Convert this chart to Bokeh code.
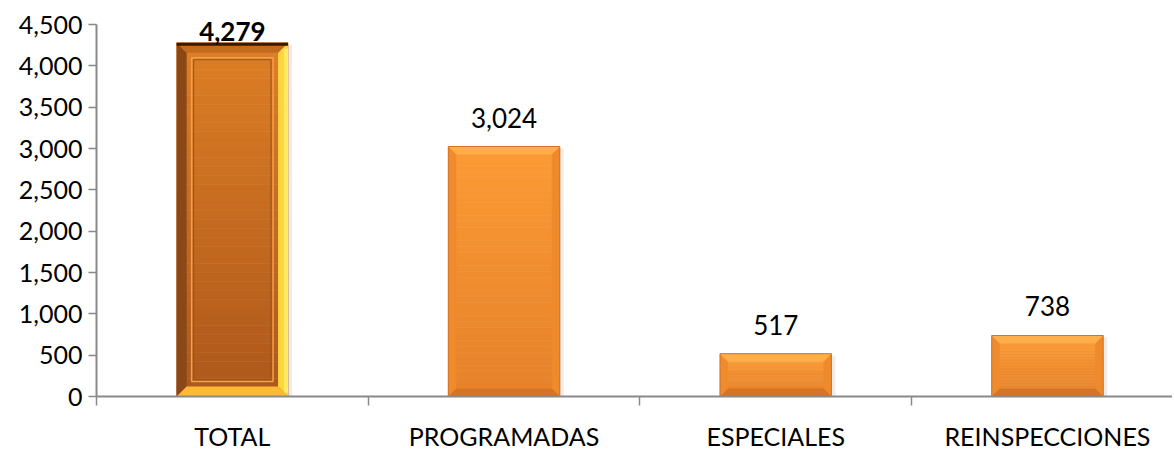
import numpy as np
from bokeh.plotting import figure
from bokeh.models import Range1d, FixedTicker, NumeralTickFormatter, ColumnDataSource
from bokeh.core.properties import value
from bokeh.embed import file_html
from bokeh.resources import INLINE

# ---- data ----
categories = ["TOTAL", "PROGRAMADAS", "ESPECIALES", "REINSPECCIONES"]
counts = [4279, 3024, 517, 738]
count_labels = ["4,279", "3,024", "517", "738"]
y_ticks = [0, 500, 1000, 1500, 2000, 2500, 3000, 3500, 4000, 4500]

# ---- layout constants ----
W, H = 1172, 453
B_LEFT, B_TOP, B_BOTTOM = 96, 6, 57
CAT_PX = 271.7
AX_PX = 372.0
frame_w = W - B_LEFT
frame_h = H - B_TOP - B_BOTTOM
x_end = frame_w / CAT_PX
y_end = y_ticks[-1] * frame_h / AX_PX
PX_X = 1.0 / CAT_PX
PX_Y = y_ticks[-1] / AX_PX
HALF_W = 0.205
FONT = "Lato"
AXIS_COLOR = "#898989"

p = figure(width=W, height=H, output_backend="svg", toolbar_location=None,
           x_range=Range1d(0, x_end), y_range=Range1d(0, y_end),
           min_border_left=B_LEFT, min_border_right=0, min_border_top=B_TOP,
           min_border_bottom=B_BOTTOM, tools="")
p.outline_line_color = None
p.xgrid.visible = False
p.ygrid.visible = False
p.background_fill_color = "white"


def hx(c):
    return tuple(int(c[i:i + 2], 16) for i in (1, 3, 5))


def lerp(c1, c2, t):
    a, b = hx(c1), hx(c2)
    return "#%02x%02x%02x" % tuple(int(round(a[k] + (b[k] - a[k]) * t)) for k in range(3))


centers = [i + 0.5 for i in range(len(categories))]

# soft shadow
p.quad(left=[c - HALF_W + 3 * PX_X for c in centers], right=[c + HALF_W + 4 * PX_X for c in centers],
       bottom=[0] * 4, top=[v - 2 * PX_Y for v in counts], fill_color="#d9d9d9", fill_alpha=0.5,
       line_color=None)

# gradient faces
N = 40
gl, gr, gb, gt, gc = [], [], [], [], []
for i, (c, v) in enumerate(zip(centers, counts)):
    if i == 0:
        ctop, cbot = "#dd7f25", "#ad571b"
    else:
        ctop, cbot = "#fc9b35", "#e5812a"
    for k in range(N):
        gl.append(c - HALF_W)
        gr.append(c + HALF_W)
        gb.append(v * k / N)
        gt.append(v * (k + 1) / N)
        gc.append(lerp(cbot, ctop, (k + 0.5) / N))
p.quad(left=gl, right=gr, bottom=gb, top=gt, fill_color=gc, line_color=gc, line_width=0.6)

# bevels
pxs, pys, pcs = [], [], []
for i, (c, v) in enumerate(zip(centers, counts)):
    x0, x1 = c - HALF_W, c + HALF_W
    b = 10 if i == 0 else 8
    bx, by = b * PX_X, b * PX_Y
    if i == 0:
        cl, cr, ct, cb = "#8a4818", "#ffd43e", "#c26a1e", "#ffba34"
    else:
        cl, cr, ct, cb = "#ef8b2c", "#ee8a2c", "#ffae4c", "#d77424"
    pxs.append([x0, x0 + bx, x0 + bx, x0]); pys.append([0, by, v - by, v]); pcs.append(cl)
    pxs.append([x1, x1 - bx, x1 - bx, x1]); pys.append([0, by, v - by, v]); pcs.append(cr)
    pxs.append([x0, x1, x1 - bx, x0 + bx]); pys.append([v, v, v - by, v - by]); pcs.append(ct)
    pxs.append([x0, x1, x1 - bx, x0 + bx]); pys.append([0, 0, by, by]); pcs.append(cb)
p.patches(xs=pxs, ys=pys, fill_color=pcs, line_color=None)

# thin darker outer edge on the orange bars
p.quad(left=[c - HALF_W for c in centers[1:]], right=[c + HALF_W for c in centers[1:]],
       bottom=[0] * 3, top=counts[1:], fill_color=None, line_color="#d27426", line_width=1)

# extra details on the TOTAL bar
c0, v0 = centers[0], counts[0]
p.quad(left=[c0 - HALF_W], right=[c0 + HALF_W], bottom=[v0 - 3 * PX_Y], top=[v0],
       fill_color="#2e1b08", line_color=None)
p.quad(left=[c0 + HALF_W - 4 * PX_X], right=[c0 + HALF_W], bottom=[4 * PX_Y], top=[v0 - 6 * PX_Y],
       fill_color="#ffec62", line_color=None)
p.quad(left=[c0 - HALF_W + 15 * PX_X], right=[c0 + HALF_W - 15 * PX_X],
       bottom=[15 * PX_Y], top=[v0 - 15 * PX_Y], fill_color=None,
       line_color="#f2a04a", line_width=1.5)
p.quad(left=[c0 - HALF_W + 17 * PX_X], right=[c0 + HALF_W - 17 * PX_X],
       bottom=[17 * PX_Y], top=[v0 - 17 * PX_Y], fill_color=None,
       line_color="#9c5019", line_width=1)

# value labels
offs = [11, 29, 29, 29]
label_y = [v + o * PX_Y for v, o in zip(counts, offs)]
p.text(x=centers[1:], y=label_y[1:], text=count_labels[1:],
       text_font=value(FONT), text_font_size="26px", text_align="center", text_baseline="middle",
       text_color="#000000")
p.text(x=[centers[0]], y=[label_y[0]], text=[count_labels[0]],
       text_font=value(FONT), text_font_size="26px", text_font_style="bold",
       text_align="center", text_baseline="middle", text_color="#000000")

# axes
xa = p.xaxis[0]
xa.ticker = FixedTicker(ticks=centers, minor_ticks=list(range(len(categories))))
xa.major_label_overrides = {c: cat for c, cat in zip(centers, categories)}
xa.major_tick_out = 0
xa.major_tick_in = 0
xa.minor_tick_out = 9
xa.minor_tick_in = 0
xa.minor_tick_line_color = AXIS_COLOR
xa.minor_tick_line_width = 1.5
xa.axis_line_color = AXIS_COLOR
xa.axis_line_width = 2
xa.major_label_text_font = FONT
xa.major_label_text_font_size = "25px"
xa.major_label_text_color = "#000000"
xa.major_label_standoff = 15

ya = p.yaxis[0]
ya.ticker = FixedTicker(ticks=y_ticks, minor_ticks=[])
ya.formatter = NumeralTickFormatter(format="0,0")
ya.bounds = (y_ticks[0], y_ticks[-1])
ya.major_tick_out = 8
ya.major_tick_in = 0
ya.major_tick_line_color = AXIS_COLOR
ya.major_tick_line_width = 1.5
ya.minor_tick_line_color = None
ya.axis_line_color = AXIS_COLOR
ya.axis_line_width = 2
ya.major_label_text_font = FONT
ya.major_label_text_font_size = "25px"
ya.major_label_text_color = "#000000"
ya.major_label_standoff = 6

open("out.html", "w").write(file_html(p, INLINE))
